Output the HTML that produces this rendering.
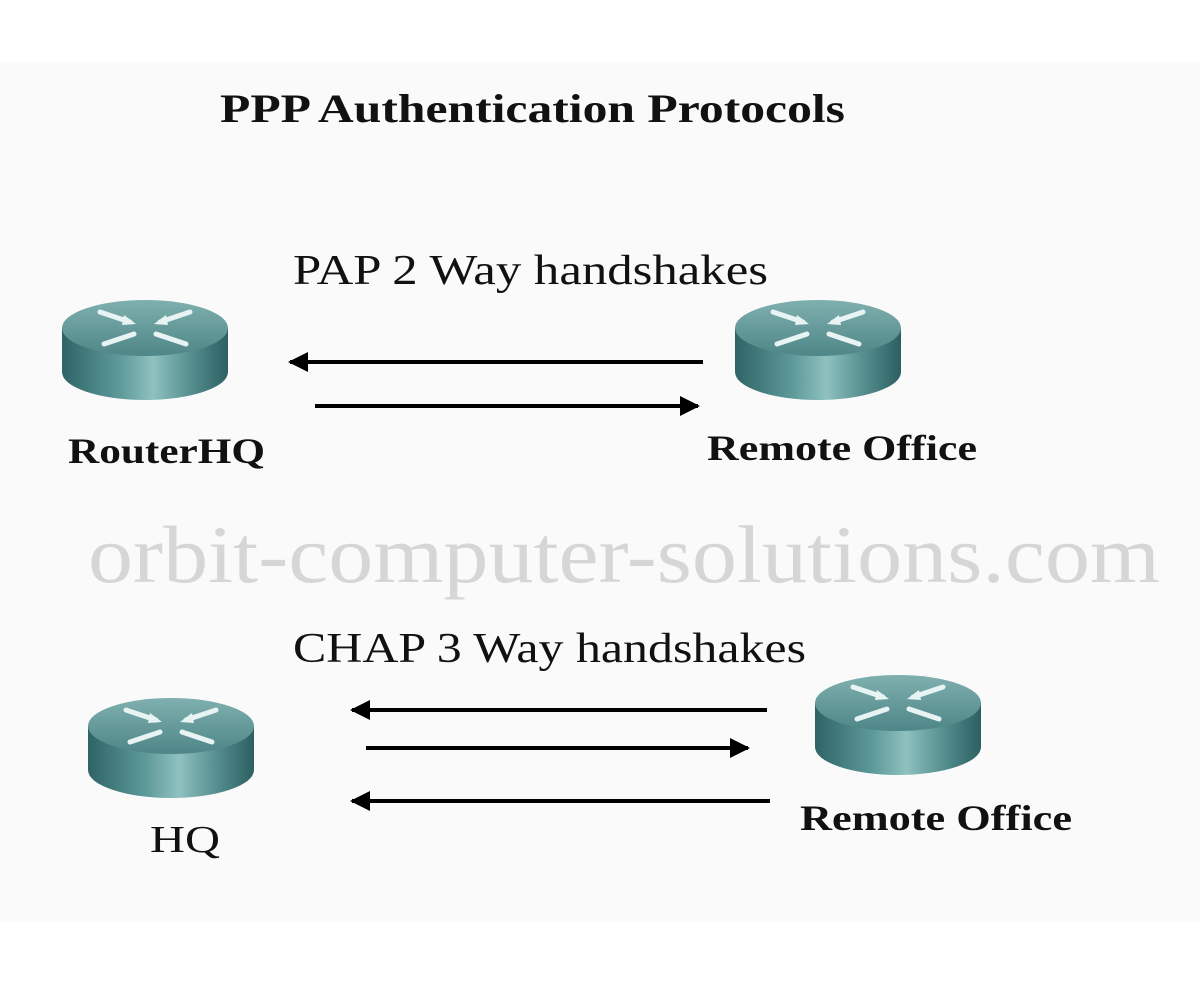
<!DOCTYPE html>
<html><head><meta charset="utf-8"><style>
html,body{margin:0;padding:0;background:#fff}
svg{display:block}
text{font-family:"Liberation Serif",serif}
</style></head><body>
<svg width="1200" height="981" viewBox="0 0 1200 981" xmlns="http://www.w3.org/2000/svg">
<defs>
<linearGradient id="body" x1="0" x2="1" y1="0" y2="0">
<stop offset="0" stop-color="#2f6466"/><stop offset="0.35" stop-color="#5e9a9a"/><stop offset="0.55" stop-color="#8fc1bf"/><stop offset="0.75" stop-color="#5a9494"/><stop offset="1" stop-color="#2c5f61"/>
</linearGradient>
<linearGradient id="top" x1="0" x2="0" y1="0" y2="1">
<stop offset="0" stop-color="#7fb0af"/><stop offset="1" stop-color="#4f8687"/>
</linearGradient>
<g id="router">
<path d="M0,28 L0,72 A83,28 0 0 0 166,72 L166,28 Z" fill="url(#body)"/>
<ellipse cx="83" cy="28" rx="83" ry="28" fill="url(#top)"/>
<g stroke="#e8f4f4" stroke-width="5" stroke-linecap="round" fill="none">
<path d="M38,12 L68,22"/><path d="M128,12 L98,22"/>
<path d="M42,44 L72,34"/><path d="M124,44 L94,34"/>
</g>
<g fill="#e8f4f4"><path d="M74,24 L62,15 L60,25 Z"/><path d="M92,24 L104,15 L106,25 Z"/></g>
</g>
<marker id="ah" viewBox="0 0 10 10" refX="9" refY="5" markerWidth="5" markerHeight="5" orient="auto-start-reverse" markerUnits="strokeWidth"><path d="M0,0 L10,5 L0,10 Z" fill="#000"/></marker>
</defs>
<rect x="0" y="62" width="1200" height="860" fill="#fafafa"/>
<text x="220" y="122" font-size="40" font-weight="bold" textLength="625" lengthAdjust="spacingAndGlyphs" fill="#111">PPP Authentication Protocols</text>
<text x="293" y="284" font-size="42" textLength="475" lengthAdjust="spacingAndGlyphs" fill="#111">PAP 2 Way handshakes</text>
<use href="#router" x="62" y="300"/>
<use href="#router" x="735" y="300"/>
<line x1="703" y1="362" x2="290" y2="362" stroke="#000" stroke-width="4" marker-end="url(#ah)"/>
<line x1="315" y1="406" x2="698" y2="406" stroke="#000" stroke-width="4" marker-end="url(#ah)"/>
<text x="68" y="463" font-size="36" font-weight="bold" textLength="197" lengthAdjust="spacingAndGlyphs" fill="#111">RouterHQ</text>
<text x="707" y="460" font-size="36" font-weight="bold" textLength="270" lengthAdjust="spacingAndGlyphs" fill="#111">Remote Office</text>
<text x="88" y="582" font-size="82" textLength="1072" lengthAdjust="spacingAndGlyphs" fill="#d6d6d6">orbit-computer-solutions.com</text>
<text x="293" y="662" font-size="42" textLength="513" lengthAdjust="spacingAndGlyphs" fill="#111">CHAP 3 Way handshakes</text>
<use href="#router" x="88" y="698"/>
<use href="#router" x="815" y="675"/>
<line x1="767" y1="710" x2="352" y2="710" stroke="#000" stroke-width="4" marker-end="url(#ah)"/>
<line x1="366" y1="748" x2="748" y2="748" stroke="#000" stroke-width="4" marker-end="url(#ah)"/>
<line x1="770" y1="801" x2="352" y2="801" stroke="#000" stroke-width="4" marker-end="url(#ah)"/>
<text x="150" y="852" font-size="38" textLength="70" lengthAdjust="spacingAndGlyphs" fill="#111">HQ</text>
<text x="800" y="830" font-size="36" font-weight="bold" textLength="272" lengthAdjust="spacingAndGlyphs" fill="#111">Remote Office</text>
</svg>
</body></html>
